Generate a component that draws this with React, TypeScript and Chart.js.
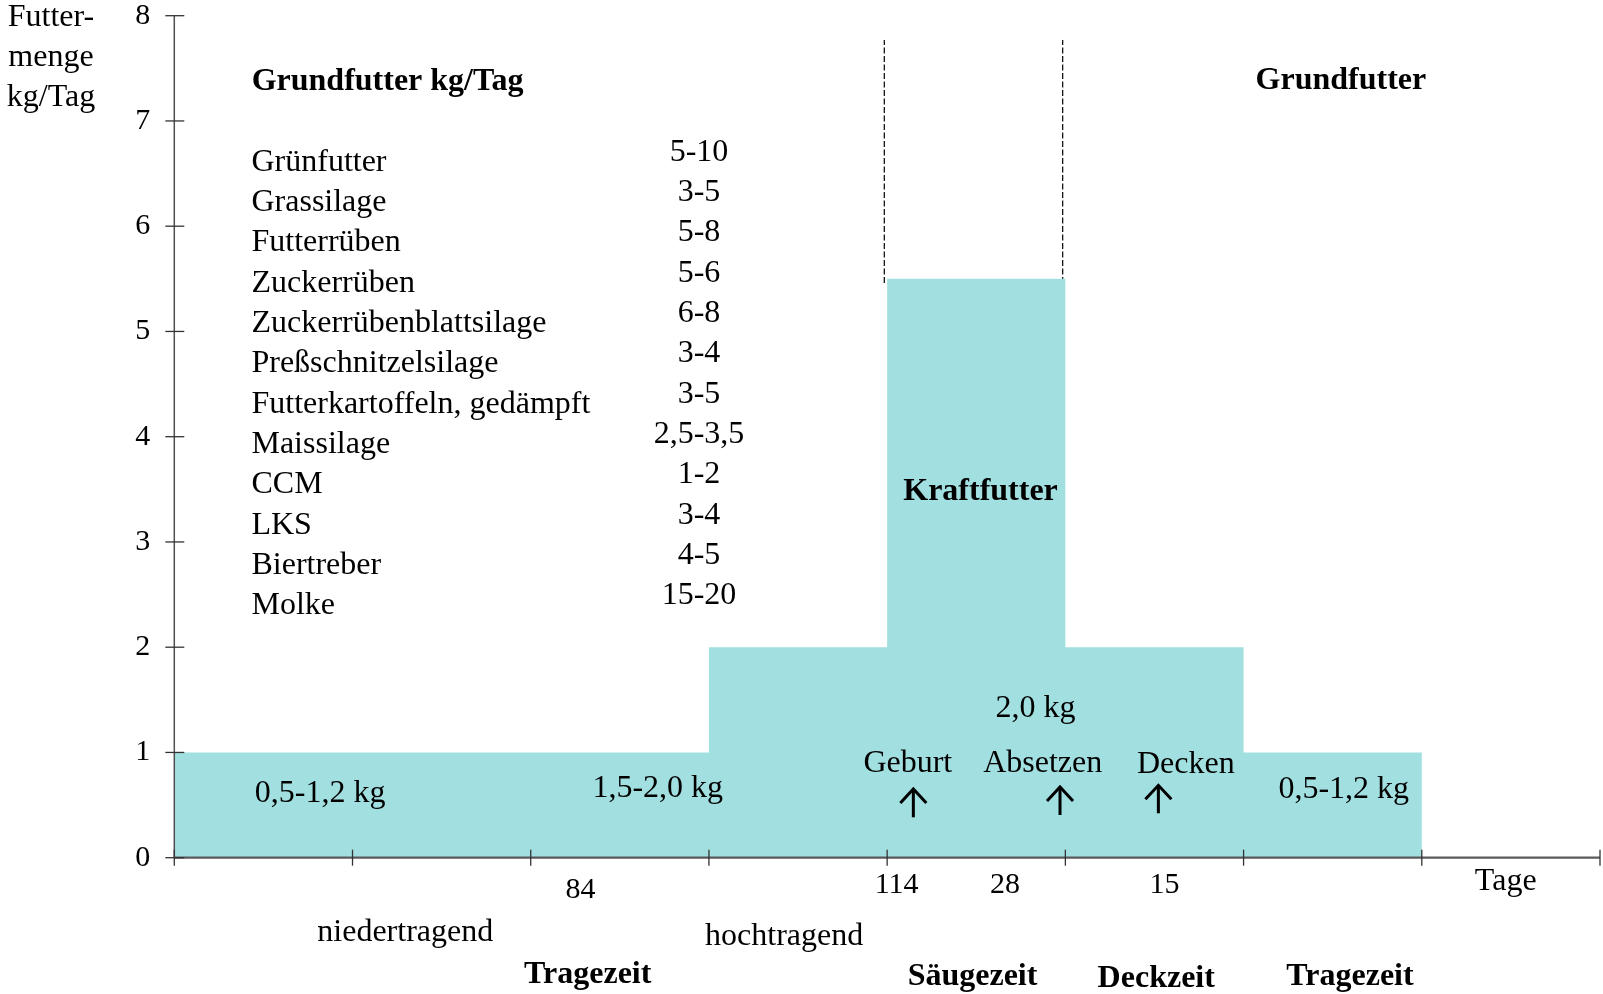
import React, { useEffect, useRef } from "react";
import { Chart, registerables } from "chart.js";

Chart.register(...registerables);

// ---- data ----
const phaseEdges = [0, 1, 2, 3, 4, 5, 6, 7, 8];
const kraftfutterKg = [1, 1, 1, 2, 5.5, 2, 1, 0, 0];
const yTicks = [0, 1, 2, 3, 4, 5, 6, 7, 8];

const grundfutterNames = [
  "Grünfutter",
  "Grassilage",
  "Futterrüben",
  "Zuckerrüben",
  "Zuckerrübenblattsilage",
  "Preßschnitzelsilage",
  "Futterkartoffeln, gedämpft",
  "Maissilage",
  "CCM",
  "LKS",
  "Biertreber",
  "Molke",
];
const grundfutterRanges = [
  "5-10",
  "3-5",
  "5-8",
  "5-6",
  "6-8",
  "3-4",
  "3-5",
  "2,5-3,5",
  "1-2",
  "3-4",
  "4-5",
  "15-20",
];

// vertical dashed markers (birth / weaning), in data units
const dashedMarkersX = [3.984, 4.985];
const dashedFromTo = [5.46, 7.77];

// text annotations in data coordinates
type Note = { t: string; x: number; y: number; bold?: boolean; size?: number; align?: CanvasTextAlign };
const notes: Note[] = [
  { t: "Futter-", x: -0.692, y: 7.902 },
  { t: "menge", x: -0.692, y: 7.522 },
  { t: "kg/Tag", x: -0.692, y: 7.142 },
  { t: "Grundfutter kg/Tag", x: 0.434, y: 7.294, bold: true, align: "left" },
  { t: "Grundfutter", x: 6.546, y: 7.301, bold: true },
  { t: "Kraftfutter", x: 4.524, y: 3.399, bold: true },
  { t: "0,5-1,2 kg", x: 0.818, y: 0.532 },
  { t: "1,5-2,0 kg", x: 2.713, y: 0.58 },
  { t: "2,0 kg", x: 4.833, y: 1.34 },
  { t: "Geburt", x: 4.116, y: 0.817 },
  { t: "Absetzen", x: 4.873, y: 0.817 },
  { t: "Decken", x: 5.676, y: 0.802 },
  { t: "0,5-1,2 kg", x: 6.562, y: 0.564 },
  { t: "84", x: 2.28, y: -0.386, size: 30 },
  { t: "114", x: 4.053, y: -0.338, size: 30 },
  { t: "28", x: 4.661, y: -0.338, size: 30 },
  { t: "15", x: 5.556, y: -0.333, size: 30 },
  { t: "Tage", x: 7.471, y: -0.307 },
  { t: "niedertragend", x: 1.296, y: -0.789 },
  { t: "hochtragend", x: 3.422, y: -0.829 },
  { t: "Tragezeit", x: 2.32, y: -1.193, bold: true },
  { t: "Säugezeit", x: 4.479, y: -1.21, bold: true },
  { t: "Deckzeit", x: 5.51, y: -1.226, bold: true },
  { t: "Tragezeit", x: 6.597, y: -1.21, bold: true },
];

// arrows: x, tip y, tail y (data units)
const arrows = [
  { x: 4.147, tip: 0.662, tail: 0.384 },
  { x: 4.97, tip: 0.681, tail: 0.406 },
  { x: 5.522, tip: 0.697, tail: 0.422 },
];

const listNameX = 0.433;
const listRangeX = 2.944;
const listNameY0 = 6.529;
const listRangeY0 = 6.624;
const listStep = 0.3832;

const FONT = '"Liberation Serif", "Times New Roman", serif';

const overlayPlugin = {
  id: "overlay",
  afterDraw(chart: any) {
    const { ctx } = chart;
    const xs = chart.scales.x;
    const ys = chart.scales.y;
    const px = (v: number) => xs.getPixelForValue(v);
    const py = (v: number) => ys.getPixelForValue(v);
    ctx.save();

    // y axis
    ctx.strokeStyle = "#505050";
    ctx.lineWidth = 1.5;
    ctx.beginPath();
    ctx.moveTo(px(0), py(8));
    ctx.lineTo(px(0), py(0));
    ctx.stroke();
    // x axis
    ctx.strokeStyle = "#5a5a5a";
    ctx.lineWidth = 2.2;
    ctx.beginPath();
    ctx.moveTo(px(0), py(0));
    ctx.lineTo(px(8), py(0));
    ctx.stroke();

    // y ticks + labels
    ctx.strokeStyle = "#333";
    ctx.lineWidth = 1.3;
    ctx.fillStyle = "#000";
    ctx.font = `30px ${FONT}`;
    ctx.textAlign = "right";
    ctx.textBaseline = "middle";
    for (const v of yTicks) {
      const y = py(v);
      ctx.beginPath();
      ctx.moveTo(px(0) - 9, y);
      ctx.lineTo(px(0) + 10, y);
      ctx.stroke();
      ctx.fillText(String(v), px(0) - 24, y);
    }
    // x ticks
    for (const v of phaseEdges) {
      const x = px(v);
      ctx.beginPath();
      ctx.moveTo(x, py(0) - 8);
      ctx.lineTo(x, py(0) + 8);
      ctx.stroke();
    }

    // notes
    ctx.textBaseline = "alphabetic";
    for (const n of notes) {
      ctx.font = `${n.bold ? "bold " : ""}${n.size || 32}px ${FONT}`;
      ctx.textAlign = n.align || "center";
      ctx.fillText(n.t, px(n.x), py(n.y));
    }
    // list
    ctx.font = `32px ${FONT}`;
    grundfutterNames.forEach((name, i) => {
      ctx.textAlign = "left";
      ctx.fillText(name, px(listNameX), py(listNameY0 - i * listStep));
      ctx.textAlign = "center";
      ctx.fillText(grundfutterRanges[i], px(listRangeX), py(listRangeY0 - i * listStep));
    });

    // arrows
    ctx.strokeStyle = "#000";
    ctx.lineWidth = 3;
    ctx.lineCap = "butt";
    for (const a of arrows) {
      const x = px(a.x);
      const t = py(a.tip);
      const b = py(a.tail);
      ctx.beginPath();
      ctx.moveTo(x, t + 1);
      ctx.lineTo(x, b);
      ctx.stroke();
      ctx.beginPath();
      ctx.moveTo(x - 13, t + 15);
      ctx.lineTo(x, t + 1);
      ctx.lineTo(x + 13, t + 15);
      ctx.stroke();
    }
    ctx.restore();
  },
};

export default function App() {
  const ref = useRef<HTMLCanvasElement | null>(null);
  useEffect(() => {
    if (!ref.current) return;
    const chart = new Chart(ref.current, {
      type: "line",
      data: {
        datasets: [
          {
            data: phaseEdges.map((x, i) => ({ x, y: kraftfutterKg[i] })),
            stepped: "before",
            fill: "origin",
            backgroundColor: "rgb(162,223,224)",
            borderWidth: 0,
            borderColor: "rgba(0,0,0,0)",
            pointRadius: 0,
          },
          ...dashedMarkersX.map((x) => ({
            data: dashedFromTo.map((y) => ({ x, y })),
            borderColor: "#000",
            borderWidth: 1.2,
            borderDash: [6, 2.5],
            pointRadius: 0,
            fill: false,
          })),
        ],
      } as any,
      options: {
        responsive: false,
        animation: false,
        layout: { padding: { left: 174.3, top: 15.7, right: 3, bottom: 136.3 } },
        plugins: { legend: { display: false }, tooltip: { enabled: false } },
        scales: {
          x: { type: "linear", min: 0, max: 8, display: false },
          y: { type: "linear", min: 0, max: 8, display: false },
        },
      },
      plugins: [overlayPlugin],
    });
    return () => chart.destroy();
  }, []);
  return (
    <div style={{ position: "absolute", left: 0, top: 0, width: 1603, height: 994 }}>
      <canvas ref={ref} width={1603} height={994} style={{ display: "block" }} />
    </div>
  );
}
